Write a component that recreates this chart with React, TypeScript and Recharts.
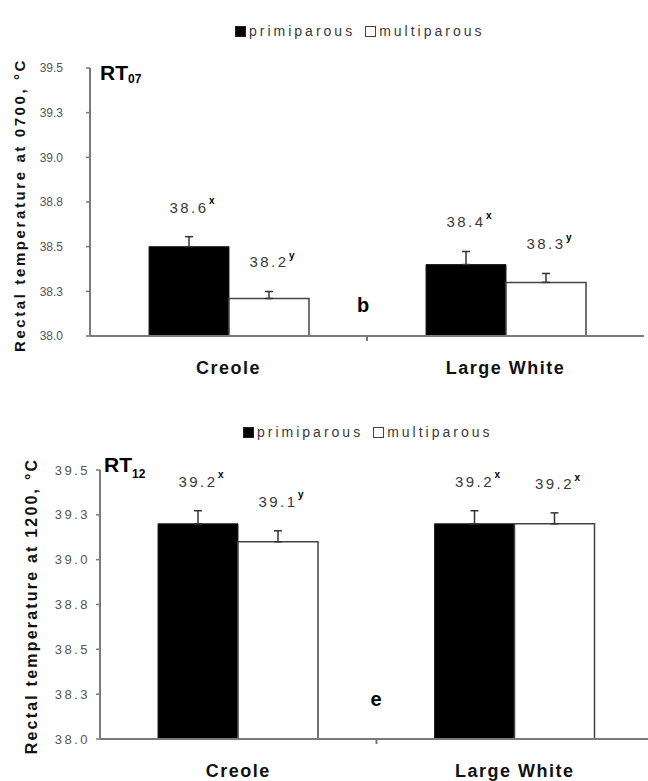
import React from 'react';
import { BarChart, Bar, XAxis, YAxis, ErrorBar, LabelList } from 'recharts';

const CATEGORIES = ['Creole', 'Large White'];
const SERIES_NAMES = ['primiparous', 'multiparous'];
const Y_TICKS = [38, 38.25, 38.5, 38.75, 39, 39.25, 39.5];
const Y_DOMAIN = [38, 39.5];

// Panel RT07 (rectal temperature at 0700)
const RT07_PRIMI = [38.5, 38.4];
const RT07_PRIMI_SE = [0.056, 0.073];
const RT07_PRIMI_LABEL = ['38.6', '38.4'];
const RT07_PRIMI_SUP = ['x', 'x'];
const RT07_MULTI = [38.21, 38.3];
const RT07_MULTI_SE = [0.039, 0.05];
const RT07_MULTI_LABEL = ['38.2', '38.3'];
const RT07_MULTI_SUP = ['y', 'y'];

// Panel RT12 (rectal temperature at 1200)
const RT12_PRIMI = [39.2, 39.2];
const RT12_PRIMI_SE = [0.073, 0.073];
const RT12_PRIMI_LABEL = ['39.2', '39.2'];
const RT12_PRIMI_SUP = ['x', 'x'];
const RT12_MULTI = [39.1, 39.2];
const RT12_MULTI_SE = [0.061, 0.061];
const RT12_MULTI_LABEL = ['39.1', '39.2'];
const RT12_MULTI_SUP = ['y', 'x'];

const FONT = '"Liberation Sans", Arial, sans-serif';

type Row = {
  cat: string;
  p: number; pErr: [number, number]; pLab: string; pSup: string;
  m: number; mErr: [number, number]; mLab: string; mSup: string;
};

function buildRows(
  p: number[], pSe: number[], pLab: string[], pSup: string[],
  m: number[], mSe: number[], mLab: string[], mSup: string[]
): Row[] {
  return CATEGORIES.map((cat, i) => ({
    cat,
    p: p[i], pErr: [0, pSe[i]], pLab: pLab[i], pSup: pSup[i],
    m: m[i], mErr: [0, mSe[i]], mLab: mLab[i], mSup: mSup[i],
  }));
}

const RT07_ROWS = buildRows(RT07_PRIMI, RT07_PRIMI_SE, RT07_PRIMI_LABEL, RT07_PRIMI_SUP,
  RT07_MULTI, RT07_MULTI_SE, RT07_MULTI_LABEL, RT07_MULTI_SUP);
const RT12_ROWS = buildRows(RT12_PRIMI, RT12_PRIMI_SE, RT12_PRIMI_LABEL, RT12_PRIMI_SUP,
  RT12_MULTI, RT12_MULTI_SE, RT12_MULTI_LABEL, RT12_MULTI_SUP);

type PanelCfg = {
  rows: Row[];
  top: number;
  width: number;
  height: number;
  margin: { top: number; right: number; bottom: number; left: number };
  yAxisWidth: number;
  xAxisHeight: number;
  tickFont: number;
  tickSpacing: number;
  tickMargin: number;
  catMargin: number;
};

const makeLabel = (rows: Row[], valKey: 'p' | 'm', seKey: 'pErr' | 'mErr', supKey: 'pSup' | 'mSup') =>
  (props: any) => {
    const { x, y, width, height, value, index } = props;
    const row = rows[index ?? 0];
    if (!row) return null;
    const v = row[valKey];
    const se = row[seKey][1];
    const pxPerUnit = Math.abs(height) / (v - Y_DOMAIN[0]);
    const errTop = y - se * pxPerUnit;
    const cy = errTop - 28;
    const cx = x + width / 2;
    return (
      <g>
        <text x={cx} y={cy} dominantBaseline="middle" textAnchor="middle"
          style={{ fontFamily: FONT, fontSize: 15, letterSpacing: 2.5, fill: '#3a3a3a' }}>
          {value}
        </text>
        <text x={cx + 20} y={cy - 7} dominantBaseline="middle" textAnchor="start"
          style={{ fontFamily: FONT, fontSize: 10, fontWeight: 'bold', fill: '#000' }}>
          {row[supKey]}
        </text>
      </g>
    );
  };

function Panel({ cfg }: { cfg: PanelCfg }) {
  const plotW = cfg.width - cfg.margin.left - cfg.margin.right - cfg.yAxisWidth;
  const band = plotW / CATEGORIES.length;
  const CatTick = (props: any) => {
    const { x, y, payload, index } = props;
    const axisY = y - cfg.catMargin;
    return (
      <g>
        <text x={x} y={y} dy="0.71em" textAnchor="middle"
          style={{ fontFamily: FONT, fontSize: 18, fontWeight: 'bold', letterSpacing: 1.5, fill: '#111' }}>
          {payload.value}
        </text>
        {index === 0 && (
          <line x1={x + band / 2} x2={x + band / 2} y1={axisY} y2={axisY + 5} stroke="#777" strokeWidth={2} />
        )}
      </g>
    );
  };
  return (
    <div style={{ position: 'absolute', left: 0, top: cfg.top, width: cfg.width, height: cfg.height }}>
      <BarChart width={cfg.width} height={cfg.height} data={cfg.rows} margin={cfg.margin}
        barGap={0} barSize={80}>
        <XAxis dataKey="cat" axisLine={{ stroke: '#7a7a7a', strokeWidth: 2 }} tickLine={false}
          tickSize={0} tickMargin={cfg.catMargin} height={cfg.xAxisHeight} interval={0}
          tick={(p: any) => <CatTick {...p} />} />
        <YAxis type="number" domain={Y_DOMAIN} ticks={Y_TICKS} interval={0} allowDataOverflow
          tickFormatter={(v: number) => v.toFixed(1)} width={cfg.yAxisWidth}
          axisLine={{ stroke: '#7a7a7a', strokeWidth: 2 }} tickLine={{ stroke: '#7a7a7a', strokeWidth: 1.5 }}
          tickSize={4} tickMargin={cfg.tickMargin}
          tick={{ fontFamily: FONT, fontSize: cfg.tickFont, letterSpacing: cfg.tickSpacing, fill: '#555' }} />
        <Bar dataKey="p" name={SERIES_NAMES[0]} fill="#000" stroke="#222" strokeWidth={1}
          isAnimationActive={false}>
          <ErrorBar dataKey="pErr" width={4} stroke="#333" strokeWidth={1.5} direction="y" />
          <LabelList dataKey="pLab" content={makeLabel(cfg.rows, 'p', 'pErr', 'pSup')} />
        </Bar>
        <Bar dataKey="m" name={SERIES_NAMES[1]} fill="#fff" stroke="#444" strokeWidth={1.5}
          isAnimationActive={false}>
          <ErrorBar dataKey="mErr" width={4} stroke="#333" strokeWidth={1.5} direction="y" />
          <LabelList dataKey="mLab" content={makeLabel(cfg.rows, 'm', 'mErr', 'mSup')} />
        </Bar>
      </BarChart>
    </div>
  );
}

function LegendBox({ left, top }: { left: number; top: number }) {
  const txt: React.CSSProperties = { fontFamily: FONT, fontSize: 14, letterSpacing: 3, color: '#3a3a3a', lineHeight: '16px' };
  const sq: React.CSSProperties = { display: 'inline-block', width: 11, height: 11, boxSizing: 'border-box', marginRight: 3 };
  return (
    <div style={{ position: 'absolute', left, top, display: 'flex', alignItems: 'center', whiteSpace: 'nowrap' }}>
      <span style={{ ...sq, background: '#000', border: '1px solid #222' }} />
      <span style={txt}>{SERIES_NAMES[0]}</span>
      <span style={{ ...sq, background: '#fff', border: '1.5px solid #444', marginLeft: 10 }} />
      <span style={txt}>{SERIES_NAMES[1]}</span>
    </div>
  );
}

const TOP_CFG: PanelCfg = {
  rows: RT07_ROWS,
  top: 0,
  width: 660,
  height: 400,
  margin: { top: 68, right: 16, bottom: 20, left: 40 },
  yAxisWidth: 50,
  xAxisHeight: 44,
  tickFont: 12,
  tickSpacing: 0,
  tickMargin: 23,
  catMargin: 25,
};

const BOTTOM_CFG: PanelCfg = {
  rows: RT12_ROWS,
  top: 400,
  width: 670,
  height: 381,
  margin: { top: 70, right: 17, bottom: 6, left: 45 },
  yAxisWidth: 55,
  xAxisHeight: 36,
  tickFont: 13,
  tickSpacing: 2.5,
  tickMargin: 6,
  catMargin: 25,
};

export default function App() {
  const bold: React.CSSProperties = { fontFamily: FONT, fontWeight: 'bold', fill: '#111' };
  return (
    <div style={{ position: 'absolute', left: 0, top: 0, width: 648, height: 781, overflow: 'hidden', background: '#fff' }}>
      <Panel cfg={TOP_CFG} />
      <Panel cfg={BOTTOM_CFG} />
      <LegendBox left={235} top={23} />
      <LegendBox left={243} top={424} />
      <svg width={648} height={781} style={{ position: 'absolute', left: 0, top: 0, pointerEvents: 'none' }}>
        <text transform="translate(25,205) rotate(-90)" textAnchor="middle"
          style={{ ...bold, fontSize: 15, letterSpacing: 2.6 }}>Rectal temperature at 0700, °C</text>
        <text transform="translate(37,606) rotate(-90)" textAnchor="middle"
          style={{ ...bold, fontSize: 16, letterSpacing: 2.2 }}>Rectal temperature at 1200, °C</text>
        <text x={100} y={80} style={{ ...bold, fontSize: 21, fill: '#000' }}>
          RT<tspan dy={3} style={{ fontSize: 12 }}>07</tspan>
        </text>
        <text x={104} y={472} style={{ ...bold, fontSize: 21, fill: '#000' }}>
          RT<tspan dy={6} style={{ fontSize: 12 }}>12</tspan>
        </text>
        <text x={363} y={312} textAnchor="middle" style={{ ...bold, fontSize: 20, fill: '#000' }}>b</text>
        <text x={376} y={706} textAnchor="middle" style={{ ...bold, fontSize: 20, fill: '#000' }}>e</text>
      </svg>
    </div>
  );
}
